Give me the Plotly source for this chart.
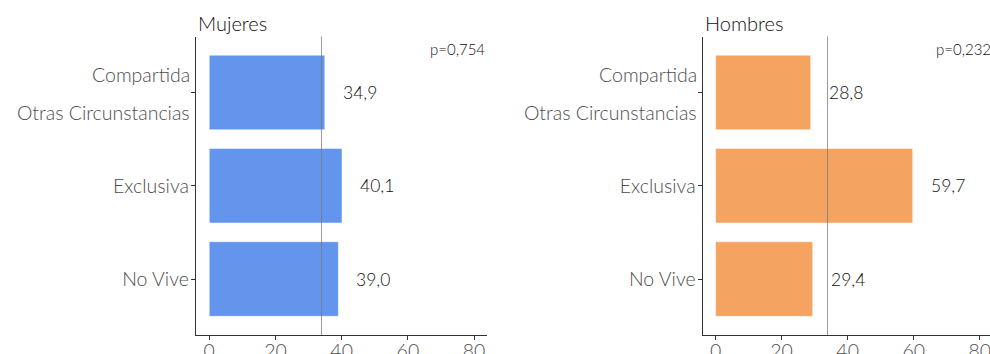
import plotly.graph_objects as go

# Categories (bottom to top) and percentages per group
categorias = ["No Vive", "Exclusiva", "Compartida / Otras Circunstancias"]
mujeres = [39.0, 40.1, 34.9]
hombres = [29.4, 59.7, 28.8]
media_global = 33.9
p_valores = ["p=0,754", "p=0,232"]
titulos = ["Mujeres", "Hombres"]
x_ticks = [0, 20, 40, 60, 80]

colores = ["#6495ED", "#F4A460"]
FONT = "Lato"
W, H = 990, 354


def fmt(v):
    return f"{v:.1f}".replace(".", ",")


fig = go.Figure()

paneles = [("x", "y", mujeres), ("x2", "y2", hombres)]
for (xa, ya, vals), col in zip(paneles, colores):
    fig.add_trace(go.Bar(
        x=vals, y=categorias, orientation="h", width=0.8,
        marker=dict(color=col, line=dict(color="rgba(255,255,255,0.5)", width=1)),
        xaxis=xa, yaxis=ya, showlegend=False, hoverinfo="skip",
    ))

# pixel layout of the two panels
left_dom = [196 / W, 486.7 / W]
right_dom = [702.7 / W, 1.0]
y_dom = [19 / H, (H - 36.5) / H]

axis_common = dict(
    showline=True, linecolor="#333333", linewidth=1.3, showgrid=False,
    zeroline=False, ticks="outside", ticklen=4, tickcolor="#333333",
    tickfont=dict(family=FONT, size=19.5, color="#4d4d4d", weight=300),
    automargin=False, ticklabeloverflow="allow",
)

ticktext_y = [c if "/" not in c else "" for c in categorias]

fig.update_layout(
    width=W, height=H, margin=dict(l=0, r=0, t=0, b=0, autoexpand=False),
    paper_bgcolor="white", plot_bgcolor="white",
    font=dict(family=FONT),
    xaxis=dict(domain=left_dom, range=[-4, 83.8], anchor="y",
               tickvals=x_ticks, ticklabelstandoff=-6, **axis_common),
    xaxis2=dict(domain=right_dom, range=[-3.9, 83.1], anchor="y2",
                tickvals=x_ticks, ticklabelstandoff=-6, **axis_common),
    yaxis=dict(domain=y_dom, range=[-0.6, 2.6], anchor="x",
               type="category", categoryorder="array", categoryarray=categorias,
               tickmode="array", tickvals=categorias, ticktext=ticktext_y,
               ticklabelstandoff=-2, **axis_common),
    yaxis2=dict(domain=y_dom, range=[-0.6, 2.6], anchor="x2",
                type="category", categoryorder="array", categoryarray=categorias,
                tickmode="array", tickvals=categorias, ticktext=ticktext_y,
                ticklabelstandoff=-2, **axis_common),
)

anns = []
shapes = []
p_x = [486.7 / W, 992.5 / W]
for i, ((xa, ya, vals), dom) in enumerate(zip(paneles, [left_dom, right_dom])):
    # reference line for the overall mean
    shapes.append(dict(type="line", xref=xa, yref=f"{ya} domain",
                       x0=media_global, x1=media_global, y0=0, y1=1,
                       line=dict(color="rgba(120,120,120,0.75)", width=1),
                       layer="above"))
    # value labels
    for c, v in zip(categorias, vals):
        anns.append(dict(xref=xa, yref=ya, x=v, y=c, text=fmt(v),
                         showarrow=False, xanchor="left", yanchor="middle",
                         xshift=16,
                         font=dict(family=FONT, size=17.5, color="#111111", weight=300)))
    # panel title
    anns.append(dict(xref="paper", yref="paper", x=dom[0], y=y_dom[1],
                     text=titulos[i], showarrow=False, xanchor="left",
                     yanchor="bottom", yshift=0,
                     font=dict(family=FONT, size=20, color="#111111", weight=300)))
    # p-value
    anns.append(dict(xref="paper", yref="paper", x=p_x[i], y=y_dom[1],
                     text=p_valores[i], showarrow=False, xanchor="right",
                     yanchor="top", yshift=-1,
                     font=dict(family=FONT, size=15, color="#111111", weight=300)))
    # two-line label of the shared category
    partes = [p.strip() for p in categorias[2].split("/")]
    for txt, shift in zip(partes, [18, -20]):
        anns.append(dict(xref=f"{xa} domain", yref=ya, x=0, y=categorias[2],
                         text=txt, showarrow=False, xanchor="right",
                         yanchor="middle", xshift=-4, yshift=shift,
                         font=dict(family=FONT, size=19.5, color="#4d4d4d", weight=300)))

fig.update_layout(annotations=anns, shapes=shapes)
fig.write_html("out.html")
